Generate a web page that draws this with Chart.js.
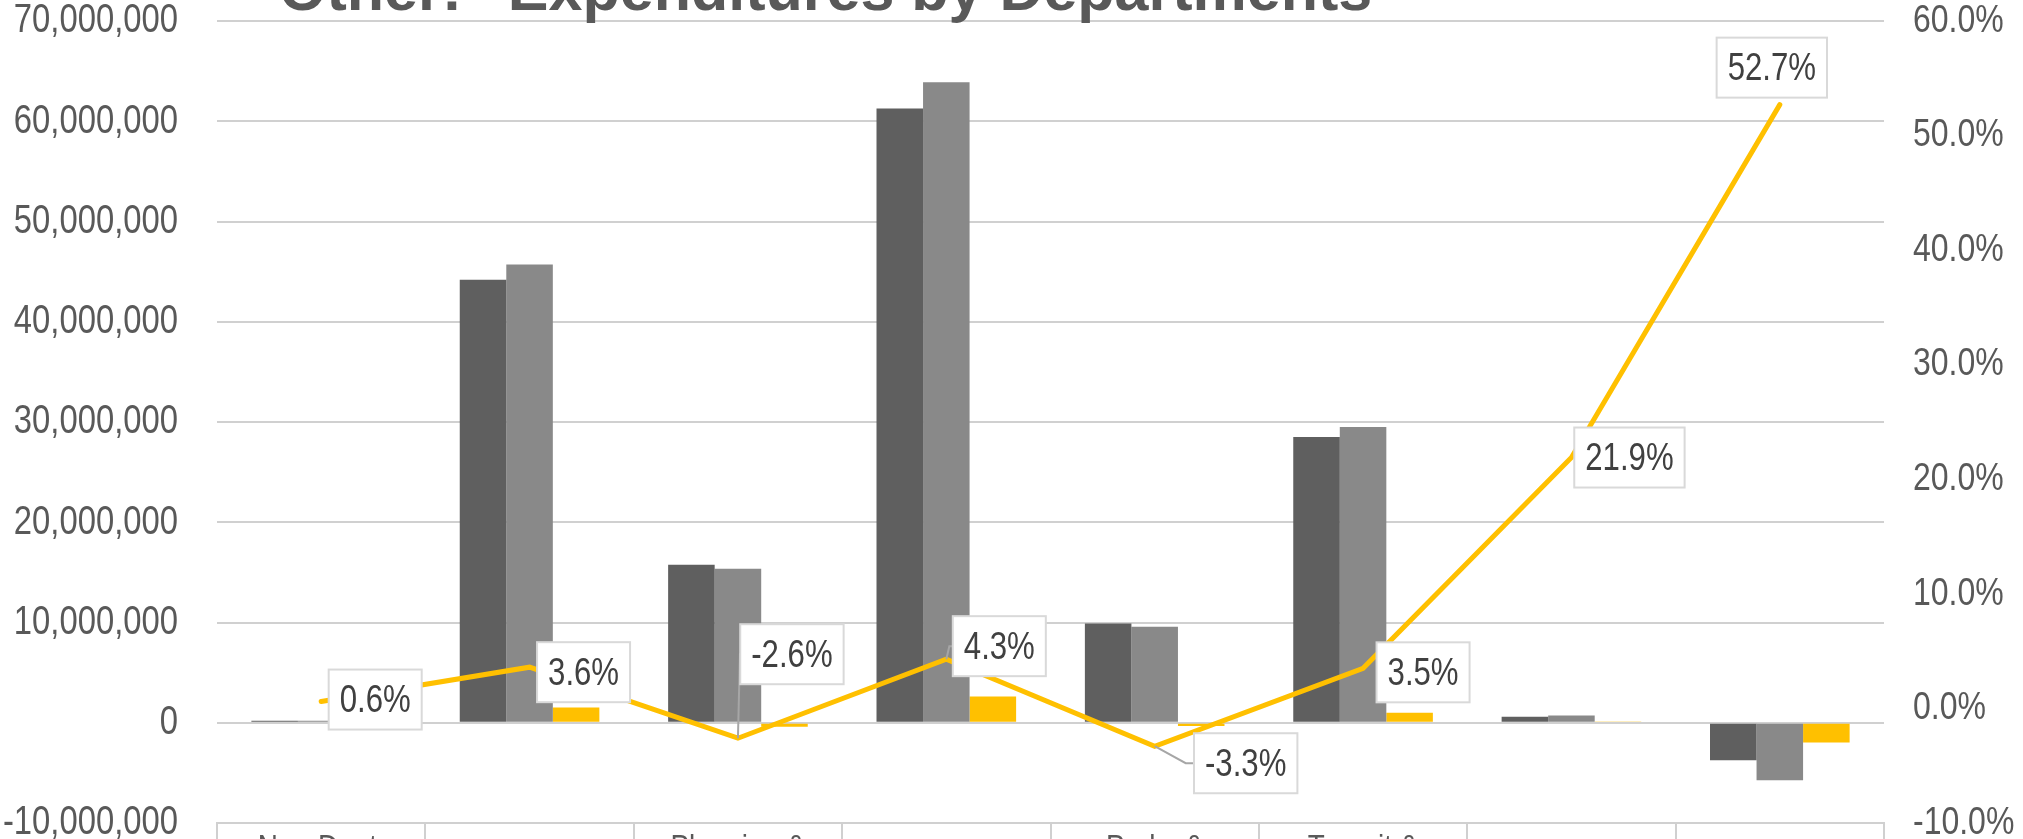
<!DOCTYPE html>
<html>
<head>
<meta charset="utf-8">
<script src="https://cdn.jsdelivr.net/npm/chart.js@4.4.0/dist/chart.umd.min.js"></script>
<style>
  html, body { margin: 0; padding: 0; background: #fff; overflow: hidden; }
  #wrap { width: 2023px; height: 839px; position: relative; }
</style>
</head>
<body>
<div id="wrap"><canvas id="deptChart"></canvas></div>
<script>
// Data
const categories = [
    ['Non-Dept.', 'Agencies'],
    ['', 'Public Safety'],
    ['Planning &', 'Development'],
    ['', 'Public Works'],
    ['Parks &', 'Recreation'],
    ['Transit &', 'Streets'],
    ['', 'Debt Service'],
    ['', 'Capital Projects']
];
const priorYear = [200000, 44180000, 15770000, 61280000, 9900000, 28500000, 600000, -3750000];
const currentYear = [201000, 45700000, 15360000, 63900000, 9570000, 29500000, 730000, -5730000];
const change = [1200, 1520000, -410000, 2620000, -330000, 1000000, 130000, -1980000];
const pctChange = [0.6, 3.6, -2.6, 4.3, -3.3, 3.5, 21.9, 52.7];

const titleText = 'Other: "Expenditures by Departments';
const baseFont = "'Liberation Sans', Arial, sans-serif";

// label box offsets from point (dx, dy) and leader bend (px from point)
const labelOffsets = [[54, -2], [54, 5], [54, -84], [53, -13], [91, 17], [60, 4], [58, 0], [-8, -37]];
const leaderBend = [null, null, 2, 3, 31, null, null, null];

function narrowText(ctx, text, x, y, align, size, color, squeeze, baseline) {
    ctx.save();
    ctx.font = size + 'px ' + baseFont;
    ctx.fillStyle = color;
    ctx.textAlign = align;
    ctx.textBaseline = baseline || 'middle';
    ctx.translate(x, y);
    ctx.scale(squeeze, 1);
    ctx.fillText(text, 0, 0);
    ctx.restore();
}

const titlePlugin = {
    id: 'cropTitle',
    afterDraw(chart) {
        const ctx = chart.ctx;
        ctx.save();
        ctx.font = "bold 61px " + baseFont;
        ctx.fillStyle = '#595959';
        ctx.textBaseline = 'alphabetic';
        ctx.textAlign = 'left';
        ctx.fillText(titleText, 279, 10);
        ctx.restore();
    }
};

// tick labels drawn narrow (Arial Narrow look)
const narrowTicks = {
    id: 'narrowTicks',
    afterDraw(chart) {
        const ctx = chart.ctx;
        const sy = chart.scales.y, sy1 = chart.scales.y1, sx = chart.scales.x;
        sy.ticks.forEach((t) => {
            narrowText(ctx, t.label, sy.right - 39, sy.getPixelForValue(t.value), 'right', 41, '#595959', 0.8);
        });
        sy1.ticks.forEach((t) => {
            narrowText(ctx, t.label, sy1.left + 29, sy1.getPixelForValue(t.value), 'left', 39, '#595959', 0.82);
        });
        sx.ticks.forEach((t, i) => {
            const x = sx.getPixelForTick(i);
            categories[i].forEach((line, k) => {
                narrowText(ctx, line, x, sx.top + 9 + k * 38, 'center', 34, '#595959', 0.82, 'top');
            });
        });
    }
};

const pctLabels = {
    id: 'pctLabels',
    afterDatasetsDraw(chart) {
        const meta = chart.getDatasetMeta(3);
        const ctx = chart.ctx;
        ctx.save();
        ctx.font = '38px ' + baseFont;
        meta.data.forEach((pt, i) => {
            const txt = pctChange[i].toFixed(1) + '%';
            const w = ctx.measureText(txt).width * 0.82 + 22;
            const h = 60;
            const cx = pt.x + labelOffsets[i][0];
            const cy = pt.y + labelOffsets[i][1];
            const left = cx - w / 2;
            if (leaderBend[i] !== null) {
                ctx.strokeStyle = '#a6a6a6';
                ctx.lineWidth = 2;
                ctx.beginPath();
                ctx.moveTo(pt.x, pt.y);
                ctx.lineTo(pt.x + leaderBend[i], cy);
                ctx.lineTo(left, cy);
                ctx.stroke();
            }
            ctx.fillStyle = '#fff';
            ctx.fillRect(left, cy - h / 2, w, h);
            ctx.strokeStyle = '#d9d9d9';
            ctx.lineWidth = 2;
            ctx.strokeRect(left, cy - h / 2, w, h);
            narrowText(ctx, txt, cx, cy + 2, 'center', 38, '#404040', 0.82);
        });
        ctx.restore();
    }
};

const ctx = document.getElementById('deptChart').getContext('2d');
new Chart(ctx, {
    data: {
        labels: categories,
        datasets: [
            { type: 'bar', label: 'Prior Year', data: priorYear, backgroundColor: '#5f5f5f', yAxisID: 'y', order: 1 },
            { type: 'bar', label: 'Current Year', data: currentYear, backgroundColor: '#898989', yAxisID: 'y', order: 1 },
            { type: 'bar', label: 'Change', data: change, backgroundColor: '#ffc000', yAxisID: 'y', order: 1 },
            {
                type: 'line', label: '% Change', data: pctChange, yAxisID: 'y1', order: 0,
                borderColor: '#ffc000', borderWidth: 5, pointRadius: 0, tension: 0,
                borderCapStyle: 'round', borderJoinStyle: 'miter', fill: false
            }
        ]
    },
    options: {
        responsive: true,
        maintainAspectRatio: false,
        devicePixelRatio: 1,
        animation: false,
        layout: { padding: { top: 21, left: 0, right: 0, bottom: 0 } },
        plugins: {
            legend: { display: false },
            tooltip: { enabled: false }
        },
        datasets: {
            bar: { categoryPercentage: 0.67, barPercentage: 1.0 }
        },
        scales: {
            x: {
                grid: { offset: true, drawOnChartArea: false, color: '#d0d0d0', lineWidth: 2, tickLength: 16 },
                border: { display: true, color: '#d0d0d0', width: 2 },
                ticks: { display: false },
                afterFit: (scale) => { scale.height = 16; scale.paddingLeft = 0; scale.paddingRight = 0; }
            },
            y: {
                position: 'left',
                min: -10000000,
                max: 70000000,
                ticks: {
                    display: false,
                    stepSize: 10000000,
                    callback: (v) => v.toLocaleString('en-US')
                },
                grid: { color: '#d0d0d0', lineWidth: 2, drawTicks: false },
                border: { display: false },
                afterFit: (scale) => { scale.width = 217; scale.paddingTop = 0; scale.paddingBottom = 0; }
            },
            y1: {
                position: 'right',
                min: -10,
                max: 60,
                ticks: {
                    display: false,
                    stepSize: 10,
                    callback: (v) => v.toFixed(1) + '%'
                },
                grid: { drawOnChartArea: false, drawTicks: false },
                border: { display: false },
                afterFit: (scale) => { scale.width = 139; scale.paddingTop = 0; scale.paddingBottom = 0; }
            }
        }
    },
    plugins: [titlePlugin, narrowTicks, pctLabels]
});
</script>
</body>
</html>
